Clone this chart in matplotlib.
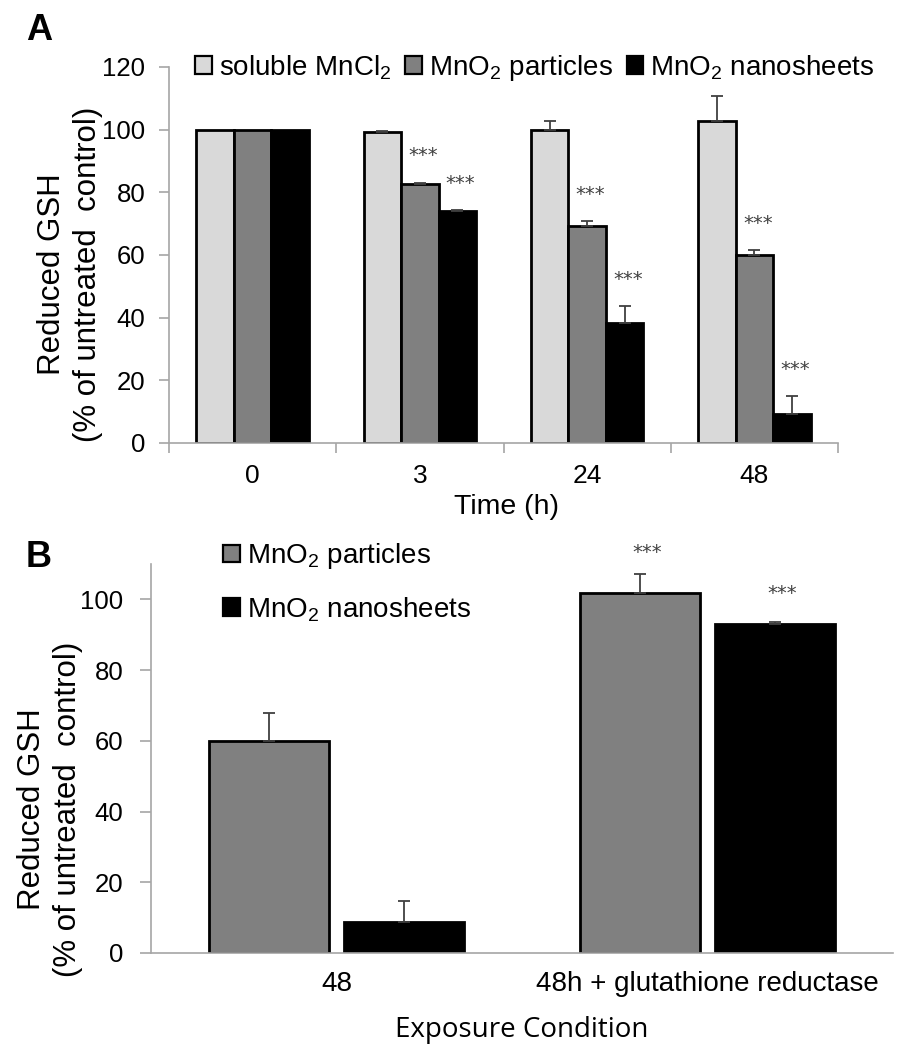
import matplotlib
matplotlib.use('Agg')
import matplotlib.pyplot as plt
import numpy as np
from matplotlib.patches import Patch

plt.rcParams['font.family'] = ['Liberation Sans', 'DejaVu Sans']
plt.rcParams['mathtext.fontset'] = 'custom'
plt.rcParams['mathtext.rm'] = 'Liberation Sans'
plt.rcParams['mathtext.it'] = 'Liberation Sans:italic'
plt.rcParams['mathtext.bf'] = 'Liberation Sans:bold'

# ---------------- Panel A data ----------------
times = ['0', '3', '24', '48']
series_a = ['soluble MnCl$_2$', 'MnO$_2$ particles', 'MnO$_2$ nanosheets']
mncl2 = [100, 99.3, 99.9, 102.8]
mncl2_err = [0, 0.4, 2.9, 8.1]
particles = [100, 82.8, 69.1, 60.1]
particles_err = [0, 0.3, 1.6, 1.6]
nanosheets = [100, 74.1, 38.3, 9.1]
nanosheets_err = [0, 0.3, 5.5, 5.9]
sig_mncl2 = ['', '', '', '']
sig_particles = ['', '***', '***', '***']
sig_nanosheets = ['', '***', '***', '***']

# ---------------- Panel B data ----------------
conditions = ['48', '48h + glutathione reductase']
series_b = ['MnO$_2$ particles', 'MnO$_2$ nanosheets']
b_particles = [60.0, 101.8]
b_particles_err = [7.8, 5.4]
b_nanosheets = [8.8, 92.9]
b_nanosheets_err = [6.0, 0.8]
b_sig_particles = ['', '***']
b_sig_nanosheets = ['', '***']

C_LIGHT, C_GRAY, C_BLACK = '#d9d9d9', '#808080', '#000000'
AX_GRAY = '#a6a6a6'
ERR_C = '#404040'

W, H = 911, 1050
fig = plt.figure(figsize=(W / 100, H / 100), dpi=100)


def style_axes(ax):
    for s in ['top', 'right']:
        ax.spines[s].set_visible(False)
    for s in ['left', 'bottom']:
        ax.spines[s].set_color(AX_GRAY)
        ax.spines[s].set_linewidth(1.2)


def draw_group(ax, pos, vals, errs, col, sigs, star_off, width):
    vals = np.asarray(vals, float)
    errs = np.asarray(errs, float)
    ax.bar(pos, vals, width, color=col, edgecolor='black', linewidth=2.0, zorder=2)
    m = errs > 0
    ax.errorbar(pos[m], vals[m], yerr=[np.zeros(m.sum()), errs[m]], fmt='none',
                ecolor=ERR_C, elinewidth=1.3, capsize=4, capthick=1.3, zorder=3)
    for p, v, e, s in zip(pos, vals, errs, sigs):
        if s:
            ax.text(p + 0.02, v + e + star_off, s, ha='center', va='center', fontsize=14,
                    color=ERR_C, family='DejaVu Sans', clip_on=False)


# ---------------- Panel A ----------------
axA = fig.add_axes([169 / W, 1 - 443 / H, (838 - 169) / W, (443 - 67) / H])
xa = np.arange(len(times))
wa = 0.224
for i, (vals, errs, col, sigs) in enumerate([
        (mncl2, mncl2_err, C_LIGHT, sig_mncl2),
        (particles, particles_err, C_GRAY, sig_particles),
        (nanosheets, nanosheets_err, C_BLACK, sig_nanosheets)]):
    draw_group(axA, xa + (i - 1) * wa, vals, errs, col, sigs, 8.5, wa)

axA.set_xlim(-0.5, len(times) - 0.5)
axA.set_ylim(0, 120)
axA.set_yticks(range(0, 121, 20))
axA.set_xticks(np.arange(-0.5, len(times), 1))
axA.set_xticklabels([])
axA.set_xticks(xa, minor=True)
axA.set_xticklabels(times, minor=True)
axA.tick_params(axis='x', which='major', length=7, width=1.2, color=AX_GRAY)
axA.tick_params(axis='x', which='minor', length=0, labelsize=19, pad=15)
axA.tick_params(axis='y', length=7, width=1.2, color=AX_GRAY, labelsize=18.5, pad=10)
style_axes(axA)

handlesA = [Patch(facecolor=c, edgecolor='black', linewidth=1.6, label=l)
            for c, l in zip([C_LIGHT, C_GRAY, C_BLACK], series_a)]
fig.legend(handles=handlesA, loc='center left', bbox_to_anchor=(195 / W, 1 - 68 / H),
           ncol=3, frameon=False, fontsize=20, handlelength=0.6, handleheight=0.6,
           handletextpad=0.25, columnspacing=0.5, borderpad=0, borderaxespad=0)

fig.text(70 / W, 1 - 274 / H, 'Reduced GSH\n(% of untreated  control)', rotation=90,
         ha='center', va='center', fontsize=22.5, linespacing=1.3, multialignment='center')
fig.text(507 / W, 1 - 507 / H, 'Time (h)', ha='center', va='center', fontsize=20.5)
fig.text(26 / W, 1 - 40 / H, 'A', fontsize=26, fontweight='bold', va='baseline', ha='left')

# ---------------- Panel B ----------------
axB = fig.add_axes([151 / W, 1 - 953 / H, (893 - 151) / W, (953 - 564) / H])
xb = np.arange(len(conditions))
wb = 0.326
off = 0.182
draw_group(axB, xb - off, b_particles, b_particles_err, C_GRAY, b_sig_particles, 6, wb)
draw_group(axB, xb + off, b_nanosheets, b_nanosheets_err, C_BLACK, b_sig_nanosheets, 8, wb)

axB.set_xlim(-0.5, len(conditions) - 0.5)
axB.set_ylim(0, 110)
axB.set_yticks(range(0, 101, 20))
axB.set_xticks(xb)
axB.set_xticklabels(conditions)
axB.tick_params(axis='x', length=0, labelsize=20, pad=13)
axB.tick_params(axis='y', length=8, width=1.2, color=AX_GRAY, labelsize=18.5, pad=12)
style_axes(axB)

handlesB = [Patch(facecolor=c, edgecolor='black', linewidth=1.6, label=l)
            for c, l in zip([C_GRAY, C_BLACK], series_b)]
fig.legend(handles=handlesB, loc='center left', bbox_to_anchor=(223 / W, 1 - 582.5 / H),
           ncol=1, frameon=False, fontsize=20, handlelength=0.6, handleheight=0.6,
           handletextpad=0.25, labelspacing=0.85, borderpad=0, borderaxespad=0)

fig.text(50 / W, 1 - 809 / H, 'Reduced GSH\n(% of untreated  control)', rotation=90,
         ha='center', va='center', fontsize=22.5, linespacing=1.3, multialignment='center')
fig.text(522 / W, 1 - 1030 / H, 'Exposure Condition', ha='center', va='center',
         fontsize=20, family=['Open Sans', 'DejaVu Sans'])
fig.text(26 / W, 1 - 567 / H, 'B', fontsize=26, fontweight='bold', va='baseline', ha='left')

fig.savefig('out.png', dpi=100)
